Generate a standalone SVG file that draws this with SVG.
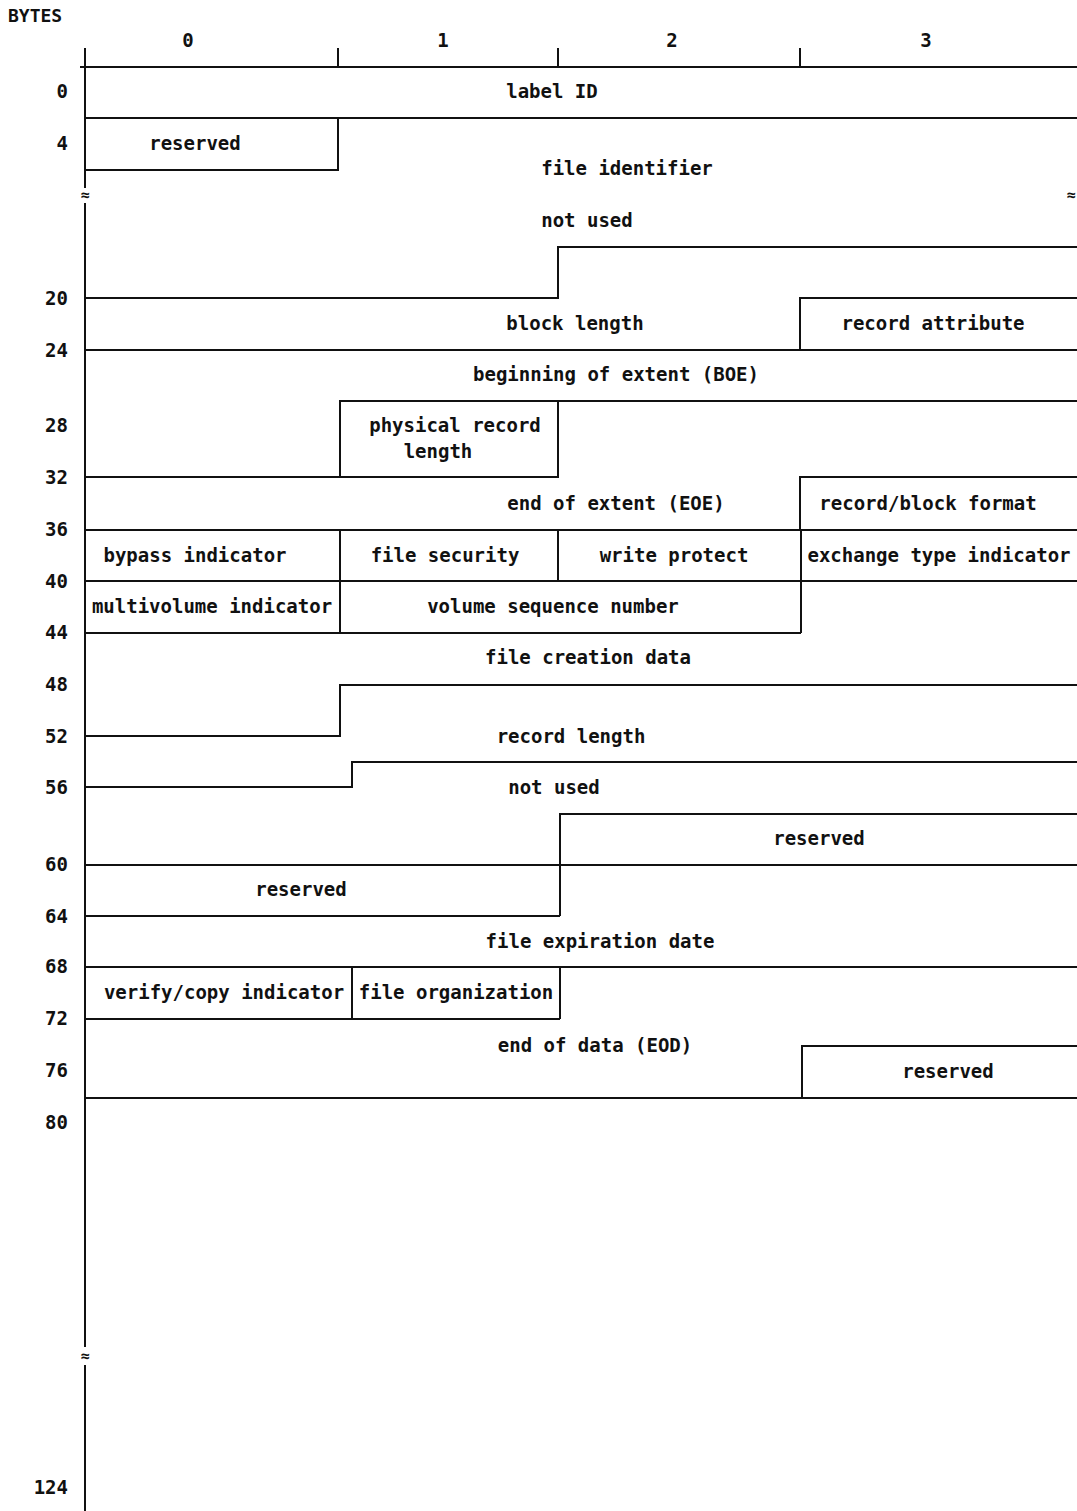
<svg xmlns="http://www.w3.org/2000/svg" width="1077" height="1511" viewBox="0 0 1077 1511">
<style>
text{font-family:"DejaVu Sans Mono","Liberation Mono",monospace;font-size:19px;font-weight:bold;fill:#111;dominant-baseline:central}
.c{text-anchor:middle}
.r{text-anchor:end}
.ln{stroke:#111;stroke-width:2;fill:none}
.brk{font-size:15px}
</style>
<rect width="1077" height="1511" fill="#fff"/>
<text x="8" y="15" style="font-size:18px">BYTES</text>
<g id="header">
<text class="c" x="188" y="40">0</text>
<text class="c" x="443" y="40">1</text>
<text class="c" x="672" y="40">2</text>
<text class="c" x="926" y="40">3</text>
</g>
<g id="offsets">
<text class="r" x="68" y="91">0</text>
<text class="r" x="68" y="143">4</text>
<text class="r" x="68" y="298">20</text>
<text class="r" x="68" y="350">24</text>
<text class="r" x="68" y="425">28</text>
<text class="r" x="68" y="477">32</text>
<text class="r" x="68" y="529">36</text>
<text class="r" x="68" y="581">40</text>
<text class="r" x="68" y="632">44</text>
<text class="r" x="68" y="684">48</text>
<text class="r" x="68" y="736">52</text>
<text class="r" x="68" y="787">56</text>
<text class="r" x="68" y="864">60</text>
<text class="r" x="68" y="916">64</text>
<text class="r" x="68" y="966">68</text>
<text class="r" x="68" y="1018">72</text>
<text class="r" x="68" y="1070">76</text>
<text class="r" x="68" y="1122">80</text>
<text class="r" x="68" y="1487">124</text>
</g>
<g id="connectors" class="ln">
<path class="ln" d="M85 48V188M85 203V1347M85 1365V1511"/>
<path class="ln" d="M338 48V67M558 48V67M800 48V67"/>
<path class="ln" d="M80 67H1077M85 118H1077"/>
<path class="ln" d="M85 170H338V118"/>
<path class="ln" d="M85 298H558V247H1077"/>
<path class="ln" d="M800 350V298H1077"/>
<path class="ln" d="M85 350H1077"/>
<path class="ln" d="M85 477H558V401M340 477V401H1077"/>
<path class="ln" d="M800 530V477H1077"/>
<path class="ln" d="M85 530H1077M85 581H1077"/>
<path class="ln" d="M340 530V633M558 530V581M801 530V633"/>
<path class="ln" d="M85 633H801"/>
<path class="ln" d="M85 736H340V685H1077"/>
<path class="ln" d="M85 787H352V762H1077"/>
<path class="ln" d="M560 916V814H1077M85 865H1077M85 916H560"/>
<path class="ln" d="M85 967H1077"/>
<path class="ln" d="M352 967V1019M560 967V1019M85 1019H560"/>
<path class="ln" d="M85 1098H1077M802 1098V1046H1077"/>
</g>
<g id="breaks">
<text class="c brk" x="85" y="195">≈</text>
<text class="c brk" x="1071" y="195">≈</text>
<text class="c brk" x="85" y="1356">≈</text>
</g>
<g id="label-id"><text class="c" x="552" y="91">label ID</text></g>
<g id="reserved-4"><text class="c" x="195" y="143">reserved</text></g>
<g id="file-identifier"><text class="c" x="627" y="168">file identifier</text></g>
<g id="not-used-1"><text class="c" x="587" y="220">not used</text></g>
<g id="block-length"><text class="c" x="575" y="323">block length</text></g>
<g id="record-attribute"><text class="c" x="933" y="323">record attribute</text></g>
<g id="boe"><text class="c" x="616" y="374">beginning of extent (BOE)</text></g>
<g id="physical-record-length"><text class="c" x="455" y="425">physical record</text><text class="c" x="438" y="451">length</text></g>
<g id="eoe"><text class="c" x="616" y="503">end of extent (EOE)</text></g>
<g id="record-block-format"><text class="c" x="928" y="503">record/block format</text></g>
<g id="bypass-indicator"><text class="c" x="195" y="555">bypass indicator</text></g>
<g id="file-security"><text class="c" x="445" y="555">file security</text></g>
<g id="write-protect"><text class="c" x="674" y="555">write protect</text></g>
<g id="exchange-type-indicator"><text class="c" x="939" y="555">exchange type indicator</text></g>
<g id="multivolume-indicator"><text class="c" x="212" y="606">multivolume indicator</text></g>
<g id="volume-sequence-number"><text class="c" x="553" y="606">volume sequence number</text></g>
<g id="file-creation-data"><text class="c" x="588" y="657">file creation data</text></g>
<g id="record-length"><text class="c" x="571" y="736">record length</text></g>
<g id="not-used-2"><text class="c" x="554" y="787">not used</text></g>
<g id="reserved-58"><text class="c" x="819" y="838">reserved</text></g>
<g id="reserved-60"><text class="c" x="301" y="889">reserved</text></g>
<g id="file-expiration-date"><text class="c" x="600" y="941">file expiration date</text></g>
<g id="verify-copy-indicator"><text class="c" x="224" y="992">verify/copy indicator</text></g>
<g id="file-organization"><text class="c" x="456" y="992">file organization</text></g>
<g id="eod"><text class="c" x="595" y="1045">end of data (EOD)</text></g>
<g id="reserved-76"><text class="c" x="948" y="1071">reserved</text></g>
</svg>
